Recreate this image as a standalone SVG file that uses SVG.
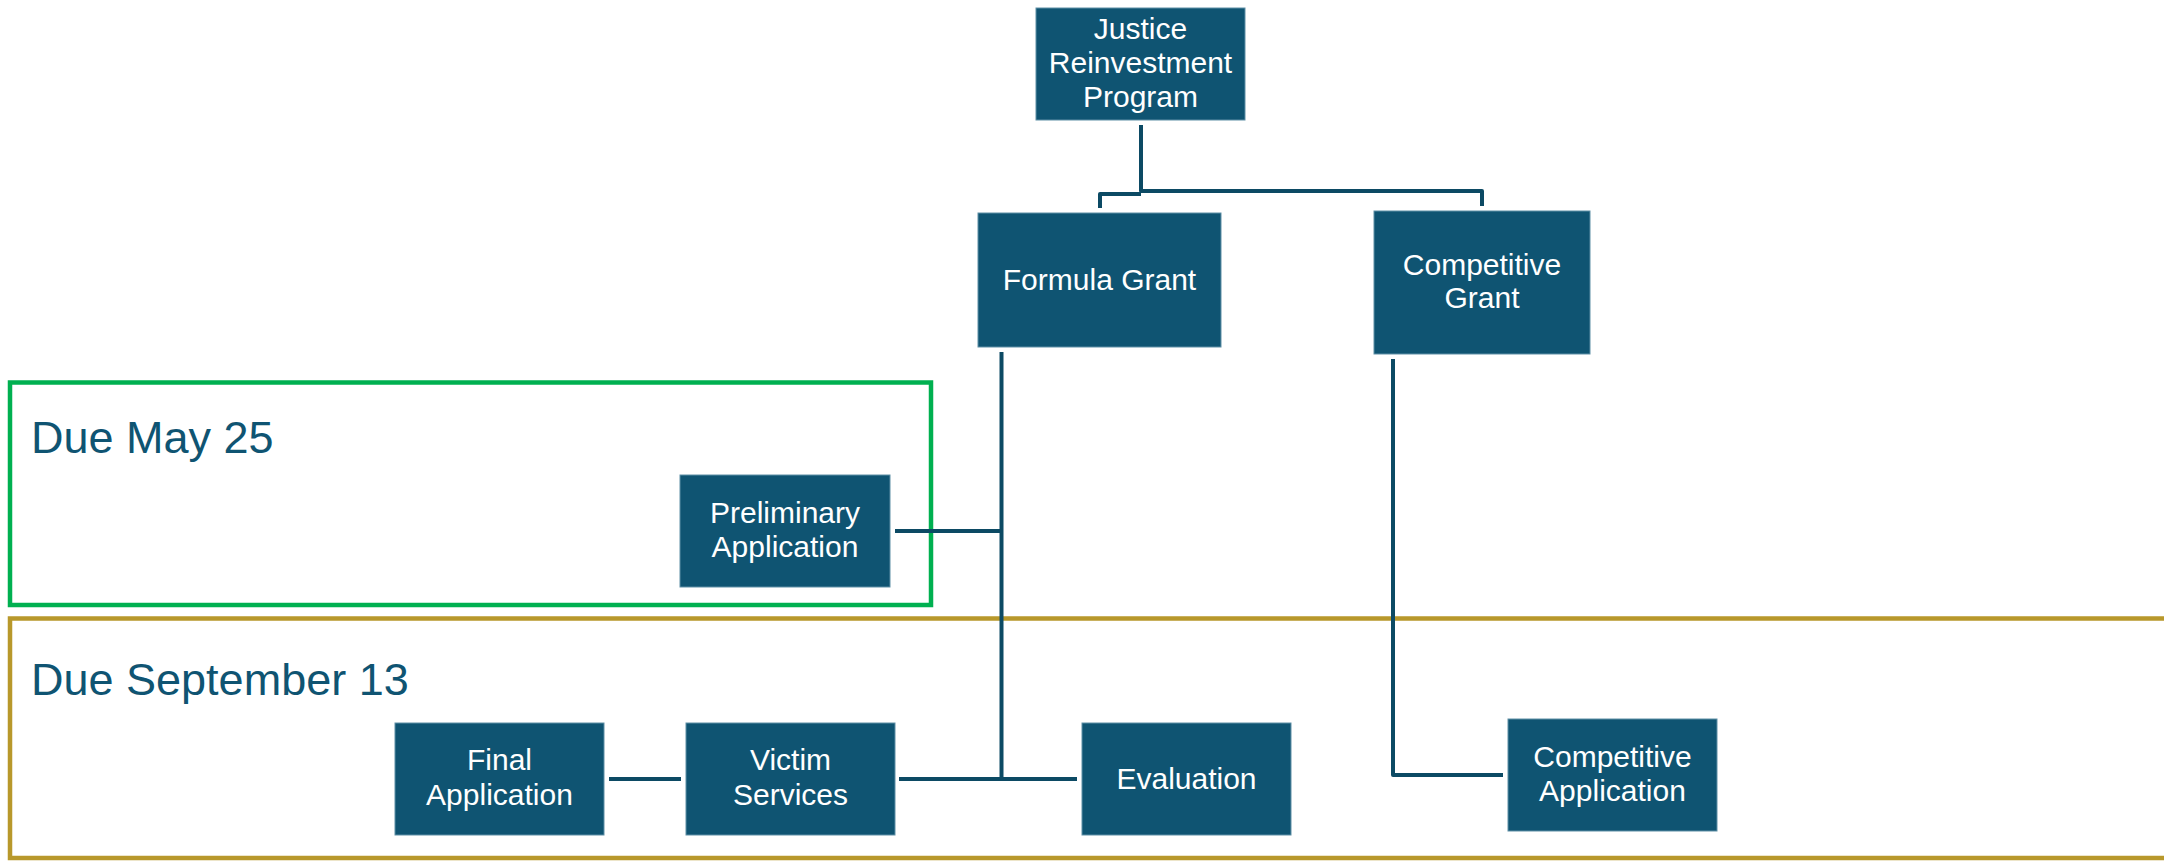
<svg xmlns="http://www.w3.org/2000/svg" width="2164" height="861" viewBox="0 0 2164 861">
<style>
.box{fill:#0F5472;stroke:#5F8FA6;stroke-width:1}
.lbl{fill:#FFFFFF;font-family:"Liberation Sans",Arial,sans-serif;font-size:30px;text-anchor:middle}
.due{fill:#0F5472;font-family:"Liberation Sans",Arial,sans-serif;font-size:45px}
.con{stroke:#0C4A64;stroke-width:4;fill:none;stroke-linejoin:round}
</style>
<rect width="2164" height="861" fill="#FFFFFF"/>
<g id="group-may">
<rect x="10" y="382.5" width="921" height="222.5" fill="none" stroke="#00B050" stroke-width="4.5"/>
<text class="due" x="31" y="453">Due May 25</text>
</g>
<g id="group-sept">
<rect x="10" y="618.5" width="2170" height="239.5" fill="none" stroke="#B8982B" stroke-width="4.5"/>
<text class="due" x="31" y="695">Due September 13</text>
</g>
<g id="connectors">
<path class="con" d="M1141 125 V191 H1482 V206"/>
<path class="con" d="M1141 194 H1100 V208"/>
<path class="con" d="M1001.5 352 V779"/>
<path class="con" d="M895 531 H1001.5"/>
<path class="con" d="M899 779 H1077"/>
<path class="con" d="M609 779 H681"/>
<path class="con" d="M1393 359 V775 H1503"/>
</g>
<g id="node-justice">
<rect class="box" x="1036" y="8" width="209" height="112"/>
<text class="lbl" x="1140.5" y="39">Justice</text>
<text class="lbl" x="1140.5" y="73">Reinvestment</text>
<text class="lbl" x="1140.5" y="107">Program</text>
</g>
<g id="node-formula">
<rect class="box" x="978" y="213" width="243" height="134"/>
<text class="lbl" x="1099.5" y="290">Formula Grant</text>
</g>
<g id="node-competitive-grant">
<rect class="box" x="1374" y="211" width="216" height="143"/>
<text class="lbl" x="1482" y="275">Competitive</text>
<text class="lbl" x="1482" y="308">Grant</text>
</g>
<g id="node-preliminary">
<rect class="box" x="680" y="475" width="210" height="112"/>
<text class="lbl" x="785" y="523">Preliminary</text>
<text class="lbl" x="785" y="557">Application</text>
</g>
<g id="node-final">
<rect class="box" x="395" y="723" width="209" height="112"/>
<text class="lbl" x="499.5" y="770">Final</text>
<text class="lbl" x="499.5" y="805">Application</text>
</g>
<g id="node-victim">
<rect class="box" x="686" y="723" width="209" height="112"/>
<text class="lbl" x="790.5" y="770">Victim</text>
<text class="lbl" x="790.5" y="805">Services</text>
</g>
<g id="node-evaluation">
<rect class="box" x="1082" y="723" width="209" height="112"/>
<text class="lbl" x="1186.5" y="789">Evaluation</text>
</g>
<g id="node-competitive-app">
<rect class="box" x="1508" y="719" width="209" height="112"/>
<text class="lbl" x="1612.5" y="767">Competitive</text>
<text class="lbl" x="1612.5" y="801">Application</text>
</g>
</svg>
